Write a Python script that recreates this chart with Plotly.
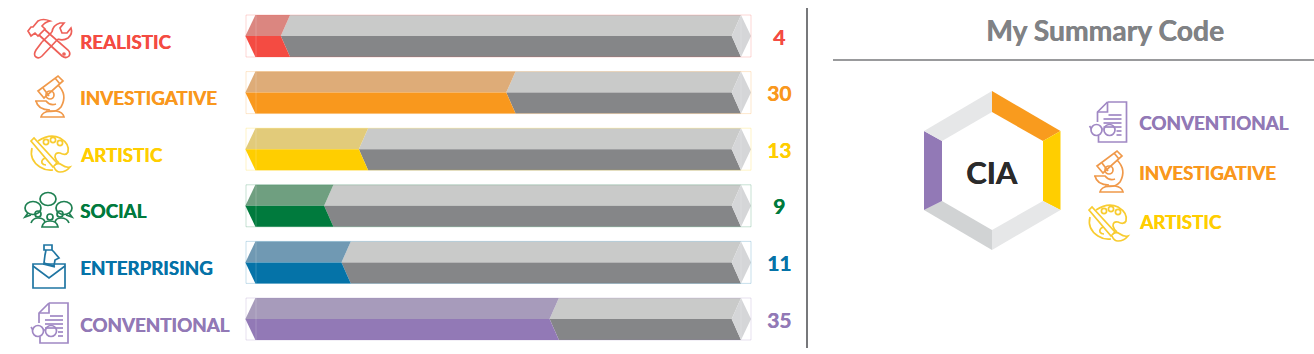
import re
import plotly.graph_objects as go

# ---------- data ----------
CATEGORIES = ["REALISTIC", "INVESTIGATIVE", "ARTISTIC", "SOCIAL", "ENTERPRISING", "CONVENTIONAL"]
SCORES = [4, 30, 13, 9, 11, 35]
SCALE_MAX = 56
COLORS = ["#F44B42", "#F9981D", "#FFCE00", "#007A3D", "#0573A8", "#9279B6"]
LIGHT = ["#DB8680", "#DEAC78", "#E2CB7A", "#6F9F80", "#7099B3", "#A79BBB"]
ICON_COLORS = ["#EE6058", "#F0994A", "#F8CC30", "#1F8052", "#1F75A2", "#A088C4"]
TITLE = "My Summary Code"
CODE = "CIA"
CODE_ITEMS = ["CONVENTIONAL", "INVESTIGATIVE", "ARTISTIC"]

FONT = "Lato"
W, H = 1314, 354
PX = (741 - 255.4) / SCALE_MAX      # pixels per score unit
X0 = 255.4
ROW0, ROWSTEP = 36, 56.6
HALF = 21 / ROWSTEP
NOTCH = 9.3 / PX
TIP = 10 / PX

fig = go.Figure()


def poly(xs, ys, color):
    fig.add_trace(go.Scatter(x=xs, y=ys, mode="lines", fill="toself", fillcolor=color,
                             line=dict(width=0, color=color), hoverinfo="skip", showlegend=False))


for i, v in enumerate(SCORES):
    t, m, b = i - HALF, i, i + HALF
    poly([v, SCALE_MAX, SCALE_MAX - NOTCH, v - NOTCH], [t, t, m, m], "#C9CAC9")
    poly([v - NOTCH, SCALE_MAX - NOTCH, SCALE_MAX, v], [m, m, b, b], "#858688")
    poly([SCALE_MAX - NOTCH, SCALE_MAX, SCALE_MAX + TIP, SCALE_MAX],
         [m, t, m, b], "#D5D6D8")
    poly([-TIP, 0, v, v - NOTCH], [m, t, t, m], LIGHT[i])
    poly([-TIP, v - NOTCH, v, 0], [m, m, b, b], COLORS[i])

shapes = []
annotations = []


def path(d, color, width=1.7, fill=None):
    shapes.append(dict(type="path", path=d, xref="x2", yref="y2", layer="above",
                       line=dict(color=color, width=width),
                       fillcolor=fill or "rgba(0,0,0,0)"))


def circ(cx, cy, rx, ry, color, width=1.7):
    shapes.append(dict(type="circle", xref="x2", yref="y2", layer="above",
                       x0=cx - rx, x1=cx + rx, y0=cy - ry, y1=cy + ry,
                       line=dict(color=color, width=width), fillcolor="rgba(0,0,0,0)"))


def shift(d, dx, dy):
    toks = re.findall(r"[A-Za-z]|-?[\d.]+", d)
    out, isx = [], True
    for tk in toks:
        if tk.isalpha():
            out.append(tk)
            isx = True
        else:
            out.append(f"{float(tk) + (dx if isx else dy):.1f}")
            isx = not isx
    return " ".join(out)


ICONS = {
    "REALISTIC": dict(
        p=["M28,31 L31,36 L35,33 L38,36 L45,29 L42,26 Q45,22 50,21 Q43,18 38,21 L33,27 L31,27 Z",
           "M39,35 L62,56 Q66,59 69,56 Q71,53 68,50 L44,29",
           "M42,42 L36,50 Q33,55 36,57 Q39,59 42,56 L58,39",
           "M52,32 Q53,25 60,23 L64,23 L60,28 L62,33 L67,33 L71,28 Q73,34 68,38 Q63,41 58,39",
           "M52,32 L42,42"],
        c=[(64, 54, 1, 1)]),
    "INVESTIGATIVE": dict(
        p=["M38,91 L58,76 L63,81 L44,98 Z", "M43,88 L49,96", "M55,78 L60,84",
           "M58,85 Q68,95 61,107 Q56,113 46,111",
           "M35,101 L46,101 Q50,106 56,104",
           "M36,101 Q38,110 50,110",
           "M41,117 Q42,112 50,111 L56,111 Q63,112 64,117 Z"],
        c=[(50, 95, 4, 4)]),
    "ARTISTIC": dict(
        p=["M38,141 Q50,133 60,138 Q70,144 68,152 Q66,156 60,153 Q55,152 55,157 Q56,161 59,163",
           "M32,148 Q29,160 40,167 Q46,171 53,170",
           "M31,141 L34,138 L57,163 L53,167 Z",
           "M55,165 Q58,162 62,165 Q66,168 70,167 Q66,172 60,172 Q56,172 54,167",
           "M45,158 Q41,160 42,163 Q43,165 46,165"],
        c=[(46, 142, 2.6, 2.6), (53, 140, 2.6, 2.6), (60, 143, 2.6, 2.6)]),
    "SOCIAL": dict(
        p=["M31,223 Q33,218 38,218 Q44,218 45,222",
           "M42,227 Q43,221 50,221 Q57,221 58,227 Z",
           "M55,222 Q56,218 61,218 Q67,218 69,223",
           "M28,213 L25,217 L31,215", "M69,213 L72,217 L66,215"],
        c=[(48, 199, 8, 6.5), (33, 208, 8, 6.5), (64, 208, 8, 6.5),
           (38, 214, 3, 3), (50, 217, 3, 3), (60, 214, 3, 3)]),
    "ENTERPRISING": dict(
        p=["M33,264 L65,264 L65,288 L33,288 Z", "M33,266 L49,278 L65,266",
           "M44,245 L52,245 L52,250 L44,250 Z",
           "M46,250 L45,255 L44,263 L54,266 L55,260 L59,258 L54,252 L52,250",
           "M43,264 L55,267"],
        c=[]),
    "CONVENTIONAL": dict(
        p=["M49,303 L68,303 L68,343 L40,343 L40,337", "M49,303 L39,313 L39,323",
           "M49,303 L49,313 L39,313", "M50,316 L63,316", "M45,320 L63,320", "M45,324 L63,324",
           "M45,328 L63,328", "M58,332 L63,332", "M58,336 L63,336",
           "M31,327 L33,330", "M44,330 L45,330"],
        c=[(38, 331, 5.5, 5.5), (51, 331, 5.5, 5.5)]),
}


def draw_icon(name, color, dx=0, dy=0):
    ic = ICONS[name]
    for d in ic["p"]:
        path(shift(d, dx, dy), color)
    for cx, cy, rx, ry in ic["c"]:
        circ(cx + dx, cy + dy, rx, ry, color)


def text(x, y, s, color, size, anchor="left"):
    annotations.append(dict(x=x, y=y, xref="x2", yref="y2", text=s, showarrow=False,
                            xanchor=anchor, yanchor="middle",
                            font=dict(family=FONT, size=size, color=color, weight=700,
                                      shadow=f"0.4px 0 0 {color}")))


# left column
for i, (c, v) in enumerate(zip(CATEGORIES, SCORES)):
    my = ROW0 + ROWSTEP * i
    draw_icon(c, ICON_COLORS[i])
    text(78, my + 5, c, COLORS[i], 18.8)
    text(779, my, str(v), COLORS[i], 21, "center")
    # tinted outline box
    col = COLORS[i].lstrip("#")
    r, g, bl = int(col[:2], 16), int(col[2:4], 16), int(col[4:], 16)
    tint = f"rgba({r},{g},{bl},0.22)"
    shapes.append(dict(type="rect", xref="x2", yref="y2", layer="above",
                       x0=246, x1=751, y0=my - 21, y1=my + 21,
                       line=dict(color=tint, width=1), fillcolor="rgba(0,0,0,0)"))
    for xv in (256, 741):
        shapes.append(dict(type="line", xref="x2", yref="y2", layer="above",
                           x0=xv, x1=xv, y0=my - 21, y1=my + 21,
                           line=dict(color="rgba(255,255,255,0.18)", width=1)))

# dividers
shapes.append(dict(type="line", xref="x2", yref="y2", x0=807, x1=807, y0=8, y1=348,
                   line=dict(color="#77787B", width=2)))
shapes.append(dict(type="line", xref="x2", yref="y2", x0=833, x1=1314, y0=60, y1=60,
                   line=dict(color="#77787B", width=1.5)))
text(1105, 30, TITLE, "#808285", 28.3, "center")

# hexagon
OUT = [(992, 91), (1060.5, 131), (1060.5, 210), (992, 250), (924, 210), (924, 131)]
INN = [(992, 112), (1043, 141), (1043, 201), (992, 230), (942, 201), (942, 141)]
SEG = ["#F99B1E", "#FFCE00", "#E6E7E8", "#D1D3D4", "#9279B6", "#E6E7E8"]
for k in range(6):
    a, b2 = OUT[k], OUT[(k + 1) % 6]
    c2, d = INN[(k + 1) % 6], INN[k]
    shapes.append(dict(type="path", xref="x2", yref="y2", layer="above",
                       path=f"M{a[0]},{a[1]} L{b2[0]},{b2[1]} L{c2[0]},{c2[1]} L{d[0]},{d[1]} Z",
                       fillcolor=SEG[k], line=dict(width=0)))
text(992, 172, CODE, "#2B2B2B", 31, "center")

# code legend
LEG_Y = [122, 172, 221]
LEG_SHIFT = [(1058.5, -201), (1059, 75), (1058, 69)]
for name, y, (dx, dy) in zip(CODE_ITEMS, LEG_Y, LEG_SHIFT):
    i = CATEGORIES.index(name)
    draw_icon(name, ICON_COLORS[i], dx, dy)
    text(1137, y, name, COLORS[i], 18.8)

fig.update_layout(
    width=W, height=H, margin=dict(l=0, r=0, t=0, b=0),
    paper_bgcolor="white", plot_bgcolor="white", showlegend=False,
    xaxis=dict(range=[-X0 / PX, (W - X0) / PX], domain=[0, 1], visible=False, fixedrange=True),
    yaxis=dict(range=[(H - ROW0) / ROWSTEP, -ROW0 / ROWSTEP], domain=[0, 1], visible=False, fixedrange=True),
    xaxis2=dict(range=[0, W], domain=[0, 1], overlaying="x", anchor="y2", visible=False, fixedrange=True),
    yaxis2=dict(range=[H, 0], domain=[0, 1], overlaying="y", anchor="x2", visible=False, fixedrange=True),
    shapes=shapes, annotations=annotations,
)
fig.write_html("out.html", config=dict(displayModeBar=False),
               post_script="document.body.style.margin='0';document.body.style.overflow='hidden';")
